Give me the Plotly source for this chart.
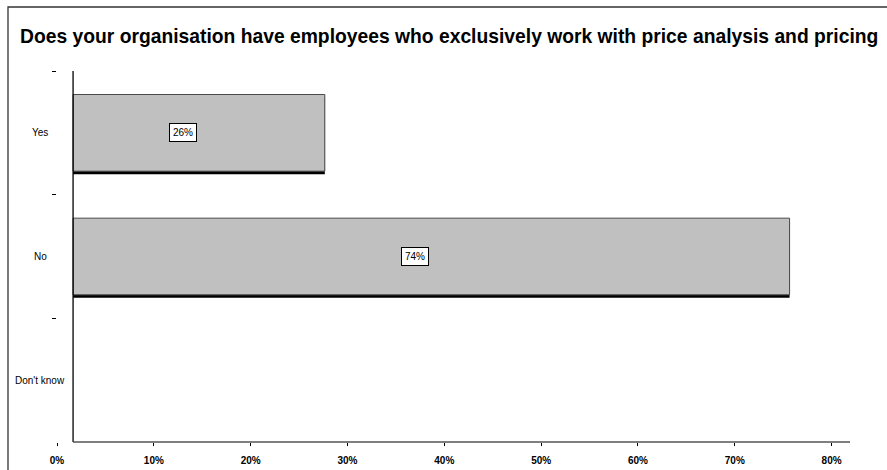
import plotly.graph_objects as go

# Survey answers (share of respondents, %)
categories = ["Yes", "No", "Don't know"]
shares = [26, 74, 0]
tick_values = [0, 10, 20, 30, 40, 50, 60, 70, 80]
tick_labels = ["0%", "10%", "20%", "30%", "40%", "50%", "60%", "70%", "80%"]
title_text = "Does your organisation have employees who exclusively work with price analysis and pricing"

# Layout geometry (pixels)
W, H = 887, 470
L, R, T, B = 57, 37, 71, 28
PW, PH = W - L - R, H - T - B
X_MAX = 81.9
BAR_ORIGIN = 1.66      # the bars and the value axis line start a little right of the tick origin
BAR_WIDTH = 0.62
SHADOW = 0.024         # downward offset of the black bar shadow (category units)
FONT = "Arial, Liberation Sans, sans-serif"


def px_x(p):
    return (p - L) / PW


def px_y(p):
    return (H - B - p) / PH


fig = go.Figure()

# black shadow under each bar
fig.add_trace(go.Bar(
    y=categories, x=shares, base=BAR_ORIGIN, orientation="h",
    width=BAR_WIDTH, offset=-BAR_WIDTH / 2 + SHADOW,
    marker=dict(color="#000000", line=dict(width=0)),
    hoverinfo="skip", showlegend=False,
))
# grey bars
fig.add_trace(go.Bar(
    y=categories, x=shares, base=BAR_ORIGIN, orientation="h",
    width=BAR_WIDTH, offset=-BAR_WIDTH / 2,
    marker=dict(color="#C0C0C0",
                line=dict(color="#4a4a4a", width=[1 if v > 0 else 0 for v in shares])),
    showlegend=False,
))

annotations = []
# value labels in white boxes
for cat, v in zip(categories, shares):
    if v > 0:
        annotations.append(dict(
            x=v / 2, y=cat, xref="x", yref="y", text=f"{v}%", showarrow=False,
            font=dict(family=FONT, size=10, color="#000000"),
            bgcolor="#FFFFFF", bordercolor="#000000", borderwidth=1, borderpad=3,
            xanchor="center", yanchor="middle",
        ))
# category labels
for cat in categories:
    annotations.append(dict(
        x=px_x(40), y=cat, xref="paper", yref="y", text=cat, showarrow=False,
        font=dict(family=FONT, size=10, color="#000000"),
        xanchor="center", yanchor="middle",
    ))
# title
annotations.append(dict(
    x=px_x(18), y=px_y(37), xref="paper", yref="paper", text=f"<b>{title_text}</b>",
    showarrow=False, xanchor="left", yanchor="middle",
    font=dict(family=FONT, size=19.3, color="#000000"),
))

shapes = [
    # outer frame
    dict(type="rect", xref="paper", yref="paper", x0=px_x(8), x1=px_x(900),
         y0=px_y(490), y1=px_y(7), line=dict(color="#333333", width=1.3),
         fillcolor="rgba(0,0,0,0)", layer="above"),
    # category axis line
    dict(type="line", xref="x", yref="paper", x0=BAR_ORIGIN, x1=BAR_ORIGIN,
         y0=0, y1=1, line=dict(color="#000000", width=1.3), layer="above"),
    # value axis line
    dict(type="line", xref="x", yref="paper", x0=BAR_ORIGIN, x1=X_MAX,
         y0=0, y1=0, line=dict(color="#555555", width=1.5), layer="above"),
]

fig.update_layout(
    width=W, height=H,
    margin=dict(l=L, r=R, t=T, b=B, pad=0, autoexpand=False),
    paper_bgcolor="#FFFFFF", plot_bgcolor="#FFFFFF",
    barmode="overlay",
    showlegend=False,
    annotations=annotations,
    shapes=shapes,
    xaxis=dict(
        range=[0, X_MAX], tickvals=tick_values, ticktext=tick_labels,
        ticks="outside", ticklen=3, tickwidth=1, tickcolor="#000000",
        showgrid=False, zeroline=False, showline=False, automargin=False,
        tickfont=dict(family=FONT, size=10, color="#000000", weight="bold"),
        ticklabelstandoff=6,
    ),
    yaxis=dict(
        categoryorder="array", categoryarray=categories,
        range=[2.5, -0.5], tickson="boundaries", automargin=False,
        ticks="outside", ticklen=4, tickwidth=1, tickcolor="#000000",
        showticklabels=False, showgrid=False, zeroline=False, showline=False,
    ),
)

fig.write_html("out.html")
